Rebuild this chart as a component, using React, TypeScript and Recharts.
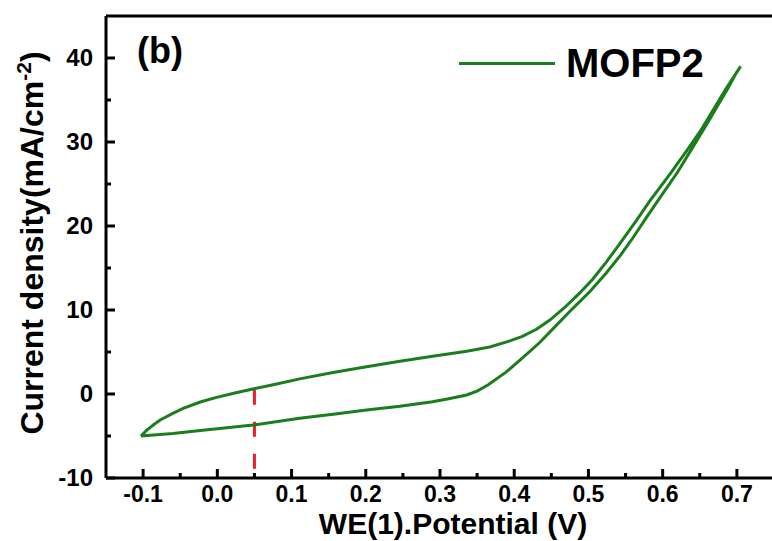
import React from 'react';
import { LineChart, Line, XAxis, YAxis, ReferenceLine } from 'recharts';

/* ─── DATA ─────────────────────────────────────── */
// forward (anodic) scan, from the lower-left tip up to the vertex
const FWD_V = [-0.103, -0.095, -0.085, -0.077, -0.06, -0.046, -0.023, -0.001, 0.025, 0.048, 0.08, 0.111, 0.156, 0.201, 0.246, 0.29, 0.336, 0.367, 0.39, 0.411, 0.43, 0.448, 0.468, 0.488, 0.506, 0.524, 0.544, 0.565, 0.582, 0.61, 0.632, 0.65, 0.668, 0.685, 0.705];
const FWD_J = [-5.0, -4.3, -3.6, -3.1, -2.3, -1.7, -0.95, -0.4, 0.15, 0.6, 1.2, 1.8, 2.55, 3.25, 3.9, 4.5, 5.1, 5.6, 6.2, 6.85, 7.7, 8.8, 10.3, 12.0, 13.7, 15.7, 18.1, 20.7, 22.9, 26.2, 28.9, 31.2, 33.8, 36.3, 39.0];
// reverse scan, back down to the tip
const REV_V = [0.699, 0.688, 0.676, 0.66, 0.64, 0.62, 0.595, 0.578, 0.56, 0.543, 0.524, 0.502, 0.479, 0.457, 0.434, 0.41, 0.389, 0.365, 0.35, 0.336, 0.31, 0.29, 0.246, 0.201, 0.156, 0.111, 0.048, 0.0, -0.023, -0.06, -0.09, -0.103];
const REV_J = [38.2, 36.4, 34.6, 32.2, 29.3, 26.4, 23.2, 21.0, 18.6, 16.5, 14.4, 12.2, 10.2, 8.2, 6.1, 4.2, 2.6, 1.1, 0.35, -0.12, -0.6, -0.92, -1.45, -1.9, -2.4, -2.9, -3.7, -4.15, -4.35, -4.7, -4.9, -5.0];

const X_TICKS = [-0.1, -0.05, 0, 0.05, 0.1, 0.15, 0.2, 0.25, 0.3, 0.35, 0.4, 0.45, 0.5, 0.55, 0.6, 0.65, 0.7];
const Y_TICKS = [-10, -5, 0, 5, 10, 15, 20, 25, 30, 35, 40];
const X_DOMAIN = [-0.15, 0.75];
const Y_DOMAIN = [-10, 45];

const MARKER_V = 0.05;
const MARKER_J = [0.5, -10];

const cvData = [
  ...FWD_V.map((v, i) => ({ v, j: FWD_J[i] })),
  ...REV_V.map((v, i) => ({ v, j: REV_J[i] })),
];

const FONT = '"Liberation Sans", Arial, sans-serif';
const GREEN = '#1b7d1b';

const isMajorX = (v: number) => Math.round(v * 100) % 10 === 0;

/* ─── TICKS ─────────────────────────────────────── */
const XTick = ({ x, y, payload }: any) => {
  const major = isMajorX(payload.value);
  return (
    <g>
      <line x1={x} x2={x} y1={y} y2={y - (major ? 9 : 5)} stroke="#000" strokeWidth={3} />
      {major && (
        <text x={x} y={y + 24} textAnchor="middle" fontFamily={FONT} fontWeight={700} fontSize={23} fill="#000">
          {payload.value.toFixed(1)}
        </text>
      )}
    </g>
  );
};

const YTick = ({ x, y, payload }: any) => {
  const major = payload.value % 10 === 0;
  return (
    <g>
      <line x1={x} x2={x + (major ? 9 : 5)} y1={y} y2={y} stroke="#000" strokeWidth={3} />
      {major && (
        <text x={x - 13} y={y + 8} textAnchor="end" fontFamily={FONT} fontWeight={700} fontSize={24} fill="#000">
          {payload.value}
        </text>
      )}
    </g>
  );
};

const XTitle = () => (
  <text x={453} y={534} textAnchor="middle" fontFamily={FONT} fontWeight={700} fontSize={30} fill="#000">
    WE(1).Potential (V)
  </text>
);

const YTitle = () => (
  <text transform="translate(43,243) rotate(-90)" textAnchor="middle" fontFamily={FONT} fontWeight={700} fontSize={32} fill="#000">
    Current density(mA/cm<tspan dy={-12} fontSize={21}>-2</tspan><tspan dy={12}>)</tspan>
  </text>
);

export default function App() {
  return (
    <div style={{ position: 'absolute', left: 0, top: 0, width: 772, height: 541, overflow: 'hidden', background: '#fff' }}>
      <LineChart width={800} height={541} data={cvData} margin={{ top: 16, right: 26, bottom: 0, left: 0 }}>
        <XAxis
          dataKey="v"
          type="number"
          domain={X_DOMAIN}
          ticks={X_TICKS}
          interval={0}
          height={63}
          tickSize={0}
          tickMargin={0}
          tickLine={false}
          axisLine={{ stroke: '#000', strokeWidth: 3 }}
          tick={<XTick />}
          label={<XTitle />}
        />
        <YAxis
          type="number"
          domain={Y_DOMAIN}
          ticks={Y_TICKS}
          interval={0}
          width={106}
          tickSize={0}
          tickMargin={0}
          tickLine={false}
          axisLine={{ stroke: '#000', strokeWidth: 3 }}
          tick={<YTick />}
          label={<YTitle />}
        />
        <ReferenceLine y={Y_DOMAIN[1]} stroke="#000" strokeWidth={3} />
        <ReferenceLine
          segment={[{ x: MARKER_V, y: MARKER_J[0] }, { x: MARKER_V, y: MARKER_J[1] }]}
          stroke="#e8202a"
          strokeWidth={3}
          strokeDasharray="15 17"
        />
        <Line
          type="linear"
          dataKey="j"
          stroke={GREEN}
          strokeWidth={3}
          dot={false}
          activeDot={false}
          isAnimationActive={false}
        />
      </LineChart>

      {/* panel tag */}
      <div style={{ position: 'absolute', left: 137, top: 33, fontFamily: FONT, fontWeight: 700, fontSize: 36, lineHeight: 1, color: '#000' }}>
        (b)
      </div>

      {/* legend */}
      <div style={{ position: 'absolute', left: 459, top: 62, width: 96, borderTop: `3px solid ${GREEN}` }} />
      <div style={{ position: 'absolute', left: 566, top: 43, fontFamily: FONT, fontWeight: 700, fontSize: 40, lineHeight: 1, color: '#000' }}>
        MOFP2
      </div>
    </div>
  );
}
